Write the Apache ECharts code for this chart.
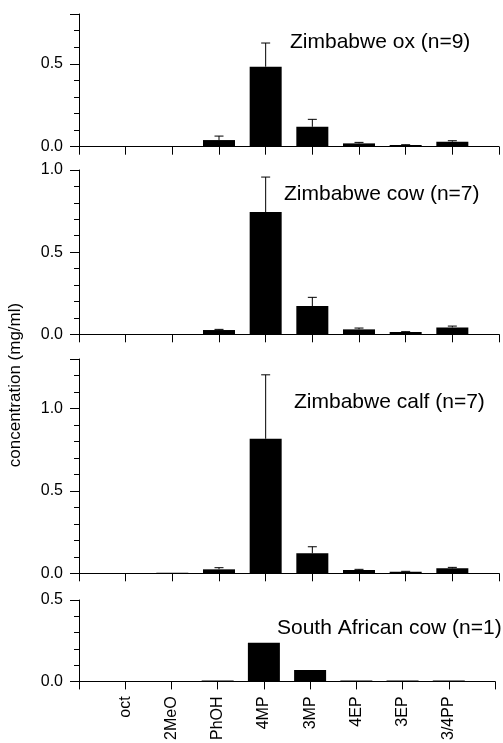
<!DOCTYPE html>
<html>
<head>
<meta charset="utf-8">
<script src="https://cdn.jsdelivr.net/npm/echarts@6/dist/echarts.min.js"></script>
<style>
	html, body { margin: 0; padding: 0; background: #fff; }
	#chart { width: 503px; height: 743px; }
</style>
</head>
<body>
<div id="chart"></div>
<script>
	// 化合物类别
	var categories = ['oct', '2MeO', 'PhOH', '4MP', '3MP', '4EP', '3EP', '3/4PP'];
	// 每个面板的标题
	var panelTitles = ['Zimbabwe ox (n=9)', 'Zimbabwe cow (n=7)', 'Zimbabwe calf (n=7)', 'South African cow (n=1)'];
	// 平均值 (mg/ml)
	var oxMean = [0, 0, 0.040, 0.482, 0.120, 0.020, 0.010, 0.030];
	var cowMean = [0, 0, 0.026, 0.744, 0.172, 0.030, 0.014, 0.042];
	var calfMean = [0, 0.003, 0.024, 0.816, 0.121, 0.020, 0.010, 0.030];
	var saCowMean = [0, 0, 0.005, 0.237, 0.070, 0.005, 0.006, 0.005];
	// 误差 (上方)
	var oxErr = [0, 0, 0.024, 0.143, 0.045, 0.006, 0.002, 0.006];
	var cowErr = [0, 0, 0.004, 0.213, 0.053, 0.008, 0.002, 0.008];
	var calfErr = [0, 0, 0.010, 0.388, 0.040, 0.004, 0.002, 0.006];
	var saCowErr = null;
	// y轴范围
	var yMax = [0.8, 1.0, 1.3, 0.5];
	var yTickLabels = ['0.0', '0.5', '1.0'];

	var means = [oxMean, cowMean, calfMean, saCowMean];
	var errs = [oxErr, cowErr, calfErr, saCowErr];

	// 面板位置
	var gridBoxes = [
		{ top: 14, height: 132.7 },
		{ top: 170, height: 164.3 },
		{ top: 359, height: 214.3 },
		{ top: 600, height: 82.3 }
	];
	var titlePos = [
		{ left: 290, top: 32 },
		{ left: 284, top: 184 },
		{ left: 294, top: 392 },
		{ left: 277, top: 618 }
	];

	var font = "'Liberation Sans', Arial, sans-serif";
	// 两端留空，刻度落在0..9
	var axisCats = [''].concat(categories, [' ']);

	var grid = [], xAxis = [], yAxis = [], series = [], title = [];

	for (var p = 0; p < 4; p++) {
		grid.push({ left: 79, right: 4, top: gridBoxes[p].top, height: gridBoxes[p].height });
		title.push({
			text: panelTitles[p],
			left: titlePos[p].left,
			top: titlePos[p].top,
			padding: 0,
			textStyle: { fontFamily: font, fontSize: 21, fontWeight: 'normal', color: '#000' }
		});
		xAxis.push({
			type: 'category',
			gridIndex: p,
			data: axisCats,
			boundaryGap: false,
			axisLine: { lineStyle: { color: '#000', width: 1 } },
			axisTick: { show: true, length: 8, interval: 0, lineStyle: { color: '#000' } },
			axisLabel: {
				show: p === 3,
				interval: 0,
				rotate: 90,
				margin: 15,
				fontFamily: font,
				fontSize: 16,
				color: '#000'
			},
			splitLine: { show: false }
		});
		yAxis.push({
			type: 'value',
			gridIndex: p,
			min: 0,
			max: yMax[p],
			interval: 0.5,
			axisLine: { show: true, lineStyle: { color: '#000', width: 1 } },
			axisTick: { show: true, length: 9, lineStyle: { color: '#000' } },
			minorTick: { show: true, splitNumber: 5, length: 5, lineStyle: { color: '#000' } },
			axisLabel: {
				margin: 16,
				fontFamily: font,
				fontSize: 16,
				color: '#000',
				showMaxLabel: yTickLabels.indexOf(yMax[p].toFixed(1)) >= 0,
				formatter: function(v) {
					var s = v.toFixed(1);
					return yTickLabels.indexOf(s) >= 0 ? s : '';
				}
			},
			splitLine: { show: false },
			minorSplitLine: { show: false }
		});

		var barData = ['-'];
		for (var i = 0; i < categories.length; i++) {
			barData.push(means[p][i]);
		}
		barData.push('-');
		series.push({
			type: 'bar',
			xAxisIndex: p,
			yAxisIndex: p,
			data: barData,
			barWidth: 32,
			itemStyle: { color: '#000' },
			silent: true
		});

		if (errs[p]) {
			var errData = [];
			for (var j = 0; j < categories.length; j++) {
				if (errs[p][j] > 0) {
					errData.push([j + 1, means[p][j], means[p][j] + errs[p][j]]);
				}
			}
			series.push({
				type: 'custom',
				xAxisIndex: p,
				yAxisIndex: p,
				data: errData,
				silent: true,
				z: 5,
				renderItem: function(params, api) {
					var x = api.value(0);
					var low = api.coord([x, api.value(1)]);
					var high = api.coord([x, api.value(2)]);
					var half = 4.5;
					var style = { stroke: '#000', lineWidth: 1 };
					return {
						type: 'group',
						children: [
							{ type: 'line', shape: { x1: low[0], y1: low[1], x2: high[0], y2: high[1] }, style: style },
							{ type: 'line', shape: { x1: high[0] - half, y1: high[1], x2: high[0] + half, y2: high[1] }, style: style }
						]
					};
				}
			});
		}
	}

	var myChart = echarts.init(document.getElementById('chart'));
	var option = {
		animation: false,
		backgroundColor: '#fff',
		title: title,
		grid: grid,
		xAxis: xAxis,
		yAxis: yAxis,
		series: series,
		graphic: [{
			type: 'text',
			x: 15,
			y: 385,
			rotation: Math.PI / 2,
			style: {
				text: 'concentration (mg/ml)',
				fontFamily: font,
				fontSize: 17,
				fill: '#000',
				align: 'center',
				verticalAlign: 'middle'
			}
		}]
	};
	myChart.setOption(option);
</script>
</body>
</html>
